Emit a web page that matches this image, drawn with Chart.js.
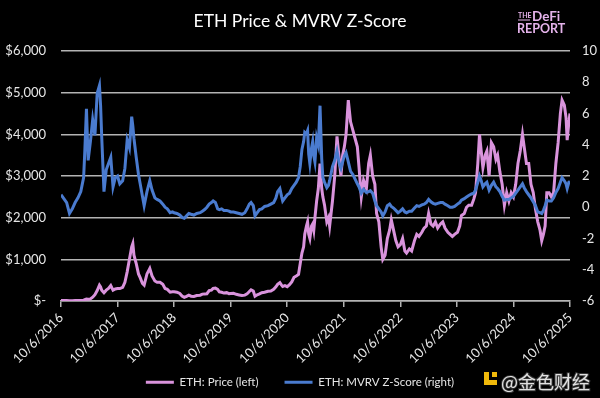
<!DOCTYPE html>
<html><head><meta charset="utf-8">
<script src="https://cdn.jsdelivr.net/npm/chart.js@4.4.1/dist/chart.umd.min.js"></script>
<style>html,body{margin:0;padding:0;background:#000;}#wrap{width:600px;height:398px;position:relative;background:#000}</style>
</head><body><div id="wrap"><canvas id="c" width="600" height="398"></canvas></div>
<script>
// time axis: years elapsed since 10/6/2016
const yearOffsets = [
0.00,0.05,0.10,0.15,0.20,0.25,0.30,0.35,0.40,0.42,0.45,0.48,0.52,0.56,0.60,0.64,0.68,0.70,0.72,0.76,0.80,0.84,0.88,0.92,0.96,
1.00,1.04,1.09,1.13,1.17,1.21,1.25,1.27,1.29,1.33,1.37,1.40,1.44,1.47,1.52,1.57,1.61,1.66,1.70,1.75,1.80,1.84,1.88,1.93,1.97,
2.00,2.05,2.10,2.14,2.18,2.22,2.26,2.30,2.35,2.40,2.46,2.50,2.54,2.58,2.62,2.66,2.69,2.73,2.77,2.80,2.84,2.88,2.93,2.97,
3.00,3.05,3.10,3.15,3.20,3.25,3.29,3.33,3.36,3.40,3.43,3.47,3.51,3.55,3.60,3.66,3.71,3.76,3.80,3.83,3.87,3.90,3.92,3.96,
4.00,4.04,4.08,4.12,4.16,4.20,4.23,4.26,4.29,4.31,4.34,4.36,4.38,4.40,4.43,4.45,4.47,4.49,4.52,4.55,4.58,4.61,4.63,4.66,4.70,4.73,4.75,4.80,4.84,4.88,4.92,4.95,4.98,
5.01,5.04,5.08,5.12,5.16,5.20,5.24,5.27,5.31,5.35,5.40,5.44,5.47,5.51,5.55,5.58,5.62,5.66,5.69,5.73,5.77,5.81,5.84,5.88,5.92,5.96,
6.00,6.04,6.08,6.11,6.16,6.20,6.25,6.29,6.33,6.38,6.42,6.46,6.50,6.54,6.58,6.62,6.66,6.71,6.75,6.79,6.84,6.88,6.92,6.96,
7.01,7.05,7.08,7.13,7.17,7.21,7.26,7.30,7.33,7.37,7.40,7.43,7.46,7.50,7.53,7.57,7.61,7.65,7.69,7.72,7.76,7.80,7.84,7.88,7.92,7.96,
8.00,8.04,8.08,8.12,8.16,8.19,8.23,8.27,8.31,8.35,8.39,8.43,8.47,8.50,8.53,8.56,8.59,8.63,8.67,8.71,8.75,8.79,8.83,8.86,8.90,8.93,8.95,8.98,9.00
];
const ethPrice = [
13,11,10,8,9,11,12,15,19,30,45,43,50,90,150,250,380,340,260,200,260,300,370,260,290,
300,300,330,450,700,1000,1300,1380,1100,900,650,560,420,380,650,780,600,480,450,450,400,300,280,210,220,
220,210,180,120,90,110,140,115,107,130,140,165,170,175,250,260,300,310,280,220,210,190,200,175,
180,185,160,145,130,140,170,230,270,240,115,150,170,200,210,235,240,280,340,400,440,380,350,370,
345,390,460,570,600,640,900,1150,1300,1600,1800,1900,1600,1500,1800,1850,1700,2000,2400,2700,3300,2700,2500,2300,1900,2000,1800,2400,3000,3950,3400,3000,3500,
3700,4000,4820,4300,4100,3900,3700,3200,2500,2900,2700,3300,3500,3000,2800,2100,1900,1300,1000,1100,1500,1700,1950,1700,1450,1300,
1350,1500,1200,1150,1250,1200,1450,1600,1550,1650,1750,1800,2100,1850,1800,1900,1750,1850,1900,1750,1650,1600,1550,1600,
1650,1800,2050,2100,2250,2300,2300,2450,2600,3300,4000,3600,3200,3500,3600,3000,3800,3700,3400,3500,3100,2800,2300,2600,2400,2600,
2500,2800,3300,3600,4000,3700,3300,3300,2800,2600,2200,1900,1700,1450,1600,1800,2600,2600,2500,2600,3300,3800,4500,4820,4700,4400,3860,4300,4500
];
const mvrvZ = [
0.8,0.55,0.3,-0.4,-0.1,0.3,0.6,1.0,1.9,3.5,6.3,3.0,4.2,5.6,4.6,7.3,7.8,6.5,4.5,1.0,2.4,2.8,3.2,1.3,1.9,
2.0,1.5,1.7,2.5,4.3,3.8,5.8,5.2,4.4,3.2,2.1,1.5,0.7,0.1,1.0,1.7,1.1,0.6,0.5,0.4,0.2,0.0,-0.1,-0.35,-0.3,
-0.35,-0.4,-0.5,-0.65,-0.7,-0.55,-0.4,-0.45,-0.5,-0.4,-0.35,-0.25,-0.15,0.0,0.2,0.3,0.4,0.3,-0.1,-0.15,-0.1,-0.2,-0.2,-0.25,
-0.3,-0.3,-0.35,-0.4,-0.45,-0.35,-0.1,0.2,0.3,0.1,-0.55,-0.35,-0.15,-0.1,0.05,0.1,0.2,0.3,0.6,1.0,1.2,0.7,0.4,0.6,
0.8,0.9,1.2,1.4,1.6,1.9,2.6,3.7,4.2,4.8,4.7,4.9,3.4,2.8,3.8,4.2,3.3,2.9,4.45,4.0,6.5,3.1,1.9,1.6,1.25,1.4,1.7,2.6,3.0,3.6,2.8,2.5,2.9,
3.3,3.5,2.9,2.3,2.1,1.8,1.5,1.3,0.9,1.15,0.95,1.0,1.06,0.9,0.4,0.1,-0.1,-0.3,-0.55,-0.3,0.1,0.2,0.05,-0.05,-0.2,-0.35,
-0.25,-0.1,-0.3,-0.35,-0.25,-0.25,-0.05,0.1,0.05,0.15,0.2,0.3,0.5,0.35,0.25,0.2,0.25,0.3,0.3,0.2,0.1,0.0,0.0,0.05,
0.2,0.3,0.45,0.55,0.65,0.75,0.85,0.9,1.1,1.6,2.0,1.7,1.3,1.5,1.6,1.1,1.4,1.6,1.3,1.2,1.0,0.7,0.45,0.5,0.5,0.6,
0.7,0.9,1.1,1.3,1.5,1.25,1.0,0.8,0.6,0.35,0.1,-0.3,-0.35,-0.4,-0.2,0.1,0.45,0.4,0.4,0.6,0.95,1.2,1.6,1.9,1.7,1.5,1.2,1.6,1.65
];
const xTickLabels = ['10/6/2016','10/6/2017','10/6/2018','10/6/2019','10/6/2020','10/6/2021','10/6/2022','10/6/2023','10/6/2024','10/6/2025'];
const seriesNames = ['ETH: Price (left)','ETH: MVRV Z-Score (right)'];
const chartTitle = 'ETH Price & MVRV Z-Score';

const FONT = 'Lato, "Noto Sans", sans-serif';
const GRID = '#b4b4b4';
const TXT = '#e6e6e6';
const PINK = '#d993dc';
const BLUE = '#4a7bcf';

const decor = {
  id: 'decor',
  afterLayout(chart) {
    // let the rotated date labels extend below the x scale box (no clipping)
    const xs = chart.scales.x;
    if (xs) xs._computeLabelArea = function () { return undefined; };
  },
  afterDraw(chart) {
    const ctx = chart.ctx;
    ctx.save();
    // logo
    ctx.fillStyle = '#e4b2ea';
    ctx.textBaseline = 'alphabetic';
    ctx.textAlign = 'left';
    ctx.font = 'bold 7px ' + FONT;
    ctx.fillText('THE', 518, 18);
    ctx.fillRect(518, 19.5, 12, 1);
    ctx.font = 'bold 13.5px ' + FONT;
    ctx.fillText('DeFi', 532, 21);
    ctx.font = 'bold 12.5px ' + FONT;
    ctx.fillText('REPORT', 517, 33);
    // watermark
    ctx.fillStyle = '#f0b90b';
    ctx.fillRect(484, 372, 5, 13);
    ctx.fillRect(489, 380, 8, 5);
    ctx.fillRect(492, 372, 5, 5);
    ctx.font = '18px "Noto Sans CJK SC", sans-serif';
    ctx.textBaseline = 'middle';
    ctx.lineWidth = 2;
    ctx.strokeStyle = 'rgba(60,60,60,0.9)';
    ctx.strokeText('@金色财经', 501, 382);
    ctx.fillStyle = 'rgba(235,235,235,0.95)';
    ctx.fillText('@金色财经', 501, 382);
    ctx.restore();
  }
};

new Chart(document.getElementById('c'), {
  type: 'line',
  data: {
    datasets: [
      { label: seriesNames[0], data: yearOffsets.map((t, i) => ({x: t, y: ethPrice[i]})), yAxisID: 'yL',
        borderColor: PINK, backgroundColor: PINK, borderWidth: 3, pointRadius: 0, tension: 0, order: 1 },
      { label: seriesNames[1], data: yearOffsets.map((t, i) => ({x: t, y: mvrvZ[i]})), yAxisID: 'yR',
        borderColor: BLUE, backgroundColor: BLUE, borderWidth: 3, pointRadius: 0, tension: 0, order: 0 }
    ]
  },
  options: {
    responsive: false, animation: false, devicePixelRatio: 1,
    layout: { padding: 0 },
    plugins: {
      tooltip: { enabled: false },
      title: { display: true, text: chartTitle, color: '#ffffff', font: { family: FONT, size: 17.5, weight: 'normal' },
               padding: { top: 11, bottom: 19 } },
      legend: { position: 'bottom',
        labels: { color: TXT, font: { family: FONT, size: 11.5 }, usePointStyle: true, pointStyle: 'line',
                  pointStyleWidth: 28, padding: 26, sort: (a, b) => a.datasetIndex - b.datasetIndex } }
    },
    scales: {
      x: { type: 'linear', min: 0, max: 9,
        ticks: { stepSize: 1, autoSkip: false, minRotation: 45, maxRotation: 45, color: TXT,
                 font: { family: FONT, size: 13 }, padding: 3,
                 callback: (v) => xTickLabels[Math.round(v)] },
        grid: { drawOnChartArea: false, color: GRID, lineWidth: 1.5, tickLength: 6 },
        border: { display: true, color: GRID, width: 1.5 },
        afterFit: (s) => { s.height = 49.5; } },
      yL: { position: 'left', min: 0, max: 6000,
        ticks: { stepSize: 1000, color: TXT, font: { family: FONT, size: 13 }, padding: 15,
                 callback: (v) => v === 0 ? '$-' : '$' + Number(v).toLocaleString('en-US') },
        grid: { color: GRID, lineWidth: 1.5, drawTicks: false },
        border: { display: false },
        afterFit: (s) => { s.width = 61; } },
      yR: { position: 'right', min: -6, max: 10,
        ticks: { stepSize: 2, color: TXT, font: { family: FONT, size: 13 }, padding: 12 },
        grid: { display: false, drawTicks: false },
        border: { display: false },
        afterFit: (s) => { s.width = 30; } }
    }
  },
  plugins: [decor]
});
</script></body></html>
